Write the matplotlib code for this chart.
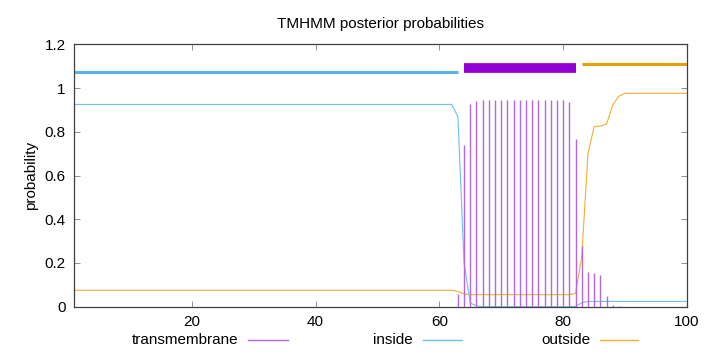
import matplotlib
matplotlib.use("Agg")
import matplotlib.pyplot as plt
from matplotlib.lines import Line2D

plt.rcParams['font.family'] = ['Liberation Sans', 'DejaVu Sans']

# positions 1..100
positions = list(range(1, 101))

# inside probability
inside = ([0.925] * 62 +
          [0.869, 0.198, 0.017, 0.003] +
          [0.0] * 15 +
          [0.001, 0.018, 0.024, 0.024, 0.024, 0.024, 0.024, 0.024] +
          [0.024] * 11)

# outside probability
outside = ([0.075] * 62 +
           [0.070, 0.058, 0.055, 0.055] +
           [0.055] * 15 +
           [0.061, 0.23, 0.70, 0.823, 0.826, 0.835, 0.922, 0.963] +
           [0.976] * 11)

# transmembrane probability (impulses)
tm_pos = list(range(63, 90))
tm_vals = [0.058, 0.74, 0.928, 0.942, 0.944, 0.945, 0.947, 0.947, 0.947,
           0.947, 0.947, 0.947, 0.947, 0.947, 0.947, 0.947, 0.945, 0.944,
           0.936, 0.768, 0.277, 0.157, 0.155, 0.145, 0.05, 0.008, 0.003]

# topology segments: (start, end, level)
seg_inside = (1, 63, 1.072)
seg_tm = (64, 82, 1.091)
seg_outside = (83, 100, 1.111)

c_tm = '#9400d3'
c_in = '#56b4e9'
c_out = '#e69f00'

fig = plt.figure(figsize=(7.2, 3.52), dpi=100)
ax = fig.add_axes([0.1028, 0.1287, 0.8514, 0.7454])

ax.vlines(tm_pos, 0, tm_vals, color='#b466e6', lw=1.0, zorder=3)
ax.plot(positions, inside, color='#6cc0ec', lw=0.8, zorder=2)
ax.plot(positions, outside, color='#eeb030', lw=0.8, zorder=2)

ax.plot([seg_inside[0], seg_inside[1]], [seg_inside[2]] * 2, color=c_in, lw=2.2, solid_capstyle='butt')
ax.plot([seg_tm[0], seg_tm[1]], [seg_tm[2]] * 2, color=c_tm, lw=7, solid_capstyle='butt')
ax.plot([seg_outside[0], seg_outside[1]], [seg_outside[2]] * 2, color=c_out, lw=2.2, solid_capstyle='butt')

ax.set_xlim(1, 100)
ax.set_ylim(0, 1.2)
ax.set_xticks([20, 40, 60, 80, 100])
ax.set_xticklabels(['20', '40', '60', '80', '100'])
ax.set_yticks([0, 0.2, 0.4, 0.6, 0.8, 1.0, 1.2])
ax.set_yticklabels(['0', '0.2', '0.4', '0.6', '0.8', '1', '1.2'])
ax.tick_params(direction='in', length=4, width=0.6, color='#808080',
               top=True, right=True, labelsize=11, pad=6)
for s in ax.spines.values():
    s.set_color('#404040')
    s.set_linewidth(0.9)

ax.set_title('TMHMM posterior probabilities', fontsize=11, pad=12)
ax.set_ylabel('probability', fontsize=11, labelpad=5)

# legend (gnuplot style: text then sample)
legend_items = [('transmembrane', '#b466e6', 238, 248, 288),
                ('inside', '#6cc0ec', 413, 423, 462),
                ('outside', '#eeb030', 590, 600, 638)]
ly = 1 - 340 / 352
for label, col, tx, x0, x1 in legend_items:
    fig.text(tx / 720, ly, label, ha='right', va='center', fontsize=11)
    fig.add_artist(Line2D([x0 / 720, x1 / 720], [ly, ly], color=col, lw=1.0,
                          transform=fig.transFigure))

fig.savefig('out.png', dpi=100)
